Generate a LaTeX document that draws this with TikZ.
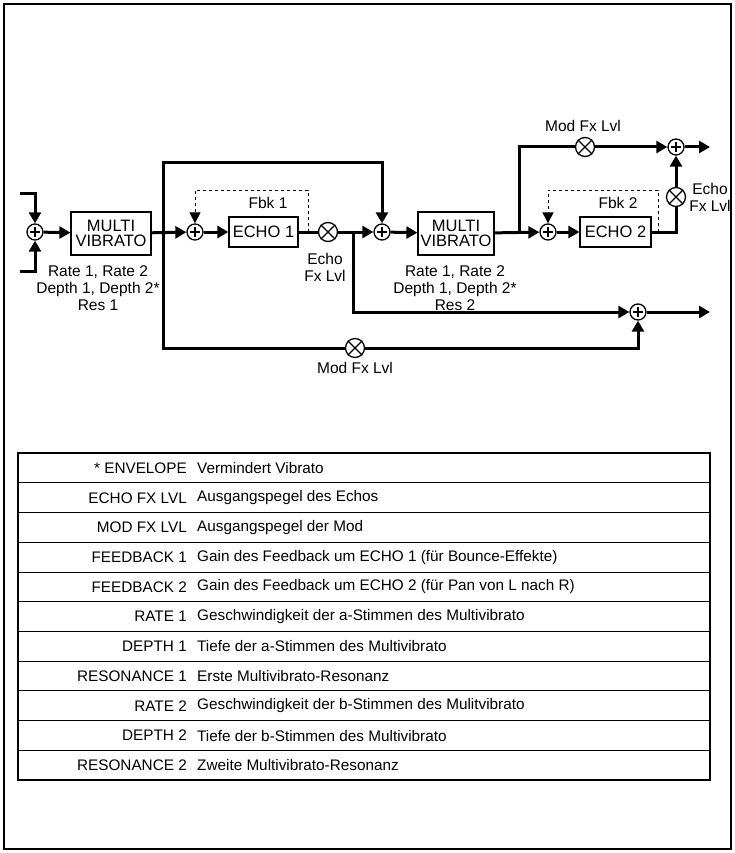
\documentclass[tikz,border=0pt]{standalone}
\usepackage{fontspec}
\setmainfont{Liberation Sans}
\usetikzlibrary{arrows.meta}
\begin{document}
\begin{tikzpicture}[x=1pt,y=-1pt,
  sig/.style={line width=3pt},
  arr/.style={sig,-{Triangle[length=11pt,width=12pt]}},
  darr/.style={dashed,line width=1pt,-{Triangle[length=11pt,width=11pt]}},
  sum/.style={circle,draw,line width=1.3pt,minimum size=16pt,inner sep=0pt},
  mul/.style={circle,draw,line width=1.3pt,minimum size=19pt,inner sep=0pt},
  box/.style={draw,line width=1.2pt,inner sep=0pt,align=center,font=\fontsize{16.5}{15}\selectfont},
  lbl/.style={align=center,font=\fontsize{15.5}{17}\selectfont,inner sep=0pt},
  tl/.style={font=\fontsize{15.3}{17}\selectfont,inner sep=0pt}]
\useasboundingbox (0,0) rectangle (734,853);
\draw[line width=1.5pt] (4,4) rectangle (731,849);
% nodes
\node[sum] (s1) at (35,232) {};
\node[sum] (s2) at (195,232) {};
\node[sum] (s3) at (382,232) {};
\node[sum] (s4) at (548,232) {};
\node[sum] (s5) at (676,147) {};
\node[sum] (s6) at (638,312) {};
\foreach \n in {s1,s2,s3,s4,s5,s6}{\draw[line width=1.3pt] ([xshift=-5pt]\n.center)--([xshift=5pt]\n.center) ([yshift=-5pt]\n.center)--([yshift=5pt]\n.center);}
\node[mul] (m1) at (328,232) {};
\node[mul] (m2) at (355,348) {};
\node[mul] (m3) at (585,147) {};
\node[mul] (m4) at (676,197) {};
\foreach \n in {m1,m2,m3,m4}{\draw[line width=1.3pt] (\n.north west)--(\n.south east) (\n.north east)--(\n.south west);}
\node[box,minimum width=80pt,minimum height=43pt] (v1) at (111,233.5) {MULTI\\VIBRATO};
\node[box,minimum width=76pt,minimum height=43pt] (v2) at (456,233.5) {MULTI\\VIBRATO};
\node[box,minimum width=69pt,minimum height=30pt] (e1) at (263.5,232) {ECHO 1};
\node[box,minimum width=71pt,minimum height=30pt] (e2) at (615.5,232) {ECHO 2};
\coordinate (inT) at (20,193);
\coordinate (inB) at (20,271);
\coordinate (j1) at (163,232);
\coordinate (j2) at (353,232);
\coordinate (j3) at (519,232);
\coordinate (o1) at (710,147);
\coordinate (o2) at (710,312);
% connectors
\draw[arr] (inT) -| (s1);
\draw[arr] (inB) -| (s1);
\draw[arr] (s1) -- (v1);
\draw[arr] (v1) -- (s2);
\draw[arr] (s2) -- (e1);
\draw[sig] (e1) -- (m1);
\draw[arr] (m1) -- (s3);
\draw[arr] (j1) |- (382,163) -- (s3);
\draw[sig] (j1) |- (m2);
\draw[arr] (m2) -| (s6);
\draw[arr] (j2) |- (s6);
\draw[arr] (s6) -- (o2);
\draw[arr] (s3) -- (v2);
\draw[arr] (v2) -- (s4);
\draw[sig] (j3) |- (m3);
\draw[arr] (m3) -- (s5);
\draw[arr] (s5) -- (o1);
\draw[arr] (s4) -- (e2);
\draw[sig] (e2) -| (m4);
\draw[arr] (m4) -- (s5);
\draw[darr] (308,232) |- (195,190) -- (s2);
\draw[darr] (658,232) |- (548,190) -- (s4);
% labels
\node[lbl] at (98,288) {Rate 1, Rate 2\\Depth 1, Depth 2*\\Res 1};
\node[lbl] at (455,288) {Rate 1, Rate 2\\Depth 1, Depth 2*\\Res 2};
\node[lbl] at (268,203) {Fbk 1};
\node[lbl] at (618,203) {Fbk 2};
\node[lbl] at (325,267) {Echo\\Fx Lvl};
\node[lbl] at (710,197) {Echo\\Fx Lvl};
\node[lbl] at (355,368) {Mod Fx Lvl};
\node[lbl] at (583,126) {Mod Fx Lvl};
% table
\draw[line width=1.2pt] (18,453) rectangle (710,780);
\foreach \i in {1,...,10}{\draw[line width=0.8pt] (18,453+\i*29.73) -- (710,453+\i*29.73);}
\foreach \i/\a/\b in {0/{* ENVELOPE}/{Vermindert Vibrato},
 1/{ECHO FX LVL}/{Ausgangspegel des Echos},
 2/{MOD FX LVL}/{Ausgangspegel der Mod},
 3/{FEEDBACK 1}/{Gain des Feedback um ECHO 1 (für Bounce-Effekte)},
 4/{FEEDBACK 2}/{Gain des Feedback um ECHO 2 (für Pan von L nach R)},
 5/{RATE 1}/{Geschwindigkeit der a-Stimmen des Multivibrato},
 6/{DEPTH 1}/{Tiefe der a-Stimmen des Multivibrato},
 7/{RESONANCE 1}/{Erste Multivibrato-Resonanz},
 8/{RATE 2}/{Geschwindigkeit der b-Stimmen des Mulitvibrato},
 9/{DEPTH 2}/{Tiefe der b-Stimmen des Multivibrato},
 10/{RESONANCE 2}/{Zweite Multivibrato-Resonanz}}{
  \node[tl,anchor=east] (ta\i) at (187,468+\i*29.73) {\a};
  \node[tl,anchor=west] (tb\i) at (197,468+\i*29.73) {\b};
}
\end{tikzpicture}
\end{document}
